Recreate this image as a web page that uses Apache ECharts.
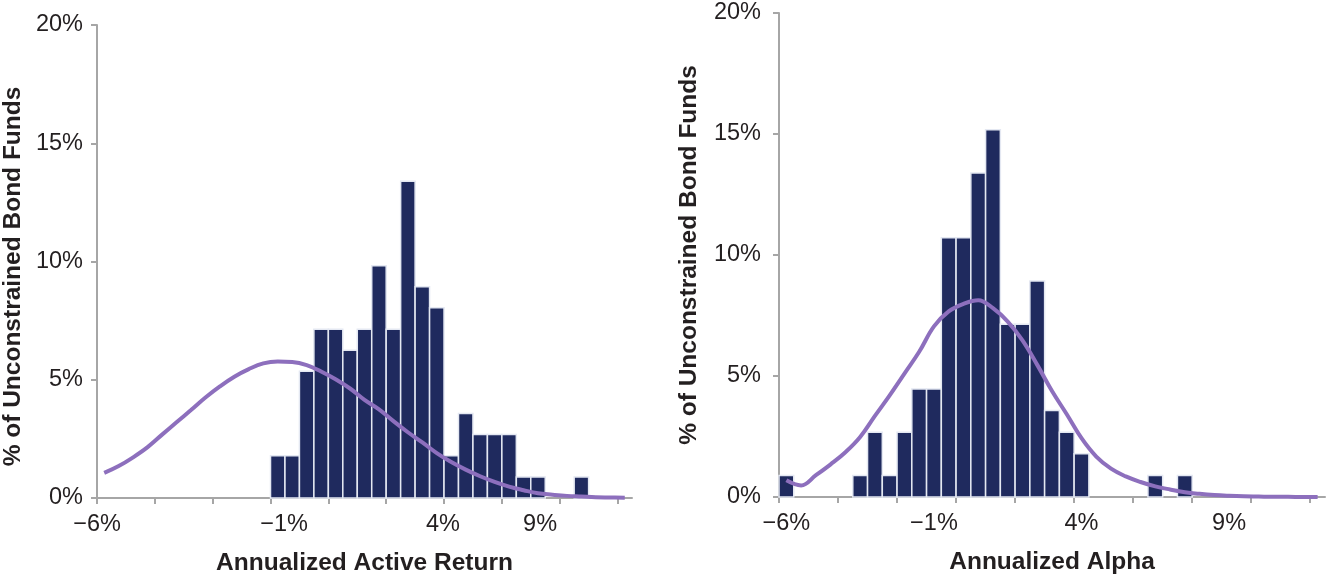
<!DOCTYPE html>
<html><head><meta charset="utf-8">
<script src="https://cdn.jsdelivr.net/npm/echarts@6/dist/echarts.min.js"></script>
<style>html,body{margin:0;padding:0;background:#fff}#c{width:1330px;height:578px}</style>
</head><body><div id="c"></div>
<script>
// ---- data (percent of funds) ----
const BIN_WIDTH = 0.5;               // width of each histogram bin, in % return
const X_MIN = -6, X_MAX = 12.5;
const X_TICKS = [-6, -4, -2, 0, 2, 4, 6, 8, 10, 12];
const X_LABELS = [-6, -1, 4, 9];
// where each x label sits on the axis (as printed in the source figure)
const activeLabelAt = [-6, 0.47, 5.96, 9.32];
const alphaLabelAt  = [-5.75, -0.75, 4.25, 9.25];
const Y_MAX = 20, Y_STEP = 5;

// Left: Annualized Active Return – bin lower edges and share of funds
const activeBins = [0.0, 0.5, 1.0, 1.5, 2.0, 2.5, 3.0, 3.5, 4.0, 4.5, 5.0, 5.5, 6.0, 6.5, 7.0, 7.5, 8.0, 8.5, 9.0, 10.5];
const activePct  = [1.79, 1.79, 5.36, 7.14, 7.14, 6.25, 7.14, 9.82, 7.14, 13.39, 8.93, 8.04, 1.79, 3.57, 2.68, 2.68, 2.68, 0.89, 0.89, 0.89];

// Right: Annualized Alpha
const alphaBins = [-6.0, -3.5, -3.0, -2.5, -2.0, -1.5, -1.0, -0.5, 0.0, 0.5, 1.0, 1.5, 2.0, 2.5, 3.0, 3.5, 4.0, 6.5, 7.5];
const alphaPct  = [0.89, 0.89, 2.68, 0.89, 2.68, 4.46, 4.46, 10.71, 10.71, 13.39, 15.18, 7.14, 7.14, 8.93, 3.57, 2.68, 1.79, 0.89, 0.89];

// Reference normal curves, sampled at bin centres
const curveX = [-5.75, -5.25, -4.75, -4.25, -3.75, -3.25, -2.75, -2.25, -1.75, -1.25, -0.75, -0.25, 0.25, 0.75, 1.25, 1.75, 2.25, 2.75, 3.25, 3.75, 4.25, 4.75, 5.25, 5.75, 6.25, 6.75, 7.25, 7.75, 8.25, 8.75, 9.25, 9.75, 10.25, 10.75, 11.25, 11.75, 12.25];
const activeCurve = [1.06, 1.35, 1.72, 2.15, 2.68, 3.2, 3.72, 4.25, 4.72, 5.13, 5.45, 5.69, 5.77, 5.75, 5.62, 5.35, 5.02, 4.63, 4.15, 3.75, 3.25, 2.78, 2.35, 1.9, 1.52, 1.2, 0.92, 0.68, 0.48, 0.33, 0.2, 0.14, 0.09, 0.06, 0.03, 0.02, 0.01];
const alphaCurve  = [0.69, 0.48, 0.9, 1.35, 1.85, 2.48, 3.35, 4.2, 5.1, 6.0, 7.05, 7.67, 7.98, 8.13, 7.8, 7.25, 6.47, 5.46, 4.38, 3.42, 2.43, 1.67, 1.17, 0.85, 0.62, 0.44, 0.31, 0.2, 0.13, 0.08, 0.05, 0.03, 0.02, 0.01, 0.01, 0.0, 0.0];

const X_TITLES = ['Annualized Active Return', 'Annualized Alpha'];
const Y_TITLE = '% of Unconstrained Bond Funds';

// ---- styling ----
const FONT = 'Liberation Sans, Arial, Helvetica, sans-serif';
const TXT = '#231f20';
const AXIS = '#a6a6a6';
const BAR = '#1f2a5e';
const LINE = '#8d6fbd';

function fmtPct(v) { return (v < 0 ? '\u2212' : '') + Math.abs(v) + '%'; }
function labelFor(positions) {
  return function (v) {
    let best = 0;
    positions.forEach((p, i) => { if (Math.abs(p - v) < Math.abs(positions[best] - v)) best = i; });
    return fmtPct(X_LABELS[best]);
  };
}

function renderBar(params, api) {
  const x0 = api.value(0), y = api.value(1);
  const p0 = api.coord([x0, y]);
  const p1 = api.coord([x0 + BIN_WIDTH, 0]);
  return {
    type: 'rect',
    shape: { x: p0[0], y: p0[1], width: p1[0] - p0[0], height: p1[1] - p0[1] },
    style: { fill: BAR, stroke: '#e4e8f2', lineWidth: 1.5 }
  };
}

function xAxisDef(idx, title, labelAt) {
  return {
    type: 'value', gridIndex: idx, min: X_MIN, max: X_MAX,
    axisLine: { show: true, onZero: false, lineStyle: { color: AXIS, width: 2 } },
    axisTick: { show: true, length: 6, lineStyle: { color: AXIS, width: 2 }, customValues: X_TICKS },
    axisLabel: {
      customValues: labelAt, formatter: labelFor(labelAt),
      fontFamily: FONT, fontSize: 23.5, color: TXT, margin: 15
    },
    splitLine: { show: false },
    name: title, nameLocation: 'middle', nameGap: 53,
    nameTextStyle: { fontFamily: FONT, fontSize: 24.5, fontWeight: 'bold', color: TXT }
  };
}
function yAxisDef(idx, gap, margin, pad) {
  return {
    type: 'value', gridIndex: idx, min: 0, max: Y_MAX, interval: Y_STEP,
    axisLine: { show: true, onZero: false, lineStyle: { color: AXIS, width: 2 } },
    axisTick: { show: true, length: 6, lineStyle: { color: AXIS, width: 2 } },
    axisLabel: { formatter: v => v + '%', fontFamily: FONT, fontSize: 23.5, color: TXT, margin: margin },
    splitLine: { show: false },
    name: Y_TITLE, nameLocation: 'middle', nameGap: gap, nameRotate: 90,
    nameTextStyle: { fontFamily: FONT, fontSize: 24.5, fontWeight: 'bold', color: TXT, padding: pad }
  };
}

const chart = echarts.init(document.getElementById('c'), null, { renderer: 'canvas' });
chart.setOption({
  animation: false,
  backgroundColor: '#ffffff',
  grid: [
    { left: 97, top: 25, width: 535, height: 473, containLabel: false, outerBoundsMode: 'none' },
    { left: 779, top: 13, width: 546, height: 484, containLabel: false, outerBoundsMode: 'none' }
  ],
  xAxis: [xAxisDef(0, X_TITLES[0], activeLabelAt), xAxisDef(1, X_TITLES[1], alphaLabelAt)],
  yAxis: [yAxisDef(0, 71, 14, [0, 30, 0, 0]), yAxisDef(1, 77, 18, 0)],
  series: [
    { type: 'custom', xAxisIndex: 0, yAxisIndex: 0, renderItem: renderBar,
      encode: { x: 0, y: 1 }, data: activeBins.map((b, i) => [b, activePct[i]]) },
    { type: 'line', xAxisIndex: 0, yAxisIndex: 0, smooth: 0.4, symbol: 'none',
      lineStyle: { color: LINE, width: 4 }, data: curveX.map((x, i) => [x, activeCurve[i]]) },
    { type: 'custom', xAxisIndex: 1, yAxisIndex: 1, renderItem: renderBar,
      encode: { x: 0, y: 1 }, data: alphaBins.map((b, i) => [b, alphaPct[i]]) },
    { type: 'line', xAxisIndex: 1, yAxisIndex: 1, smooth: 0.4, symbol: 'none',
      lineStyle: { color: LINE, width: 4 }, data: curveX.map((x, i) => [x, alphaCurve[i]]) }
  ]
});
</script></body></html>
